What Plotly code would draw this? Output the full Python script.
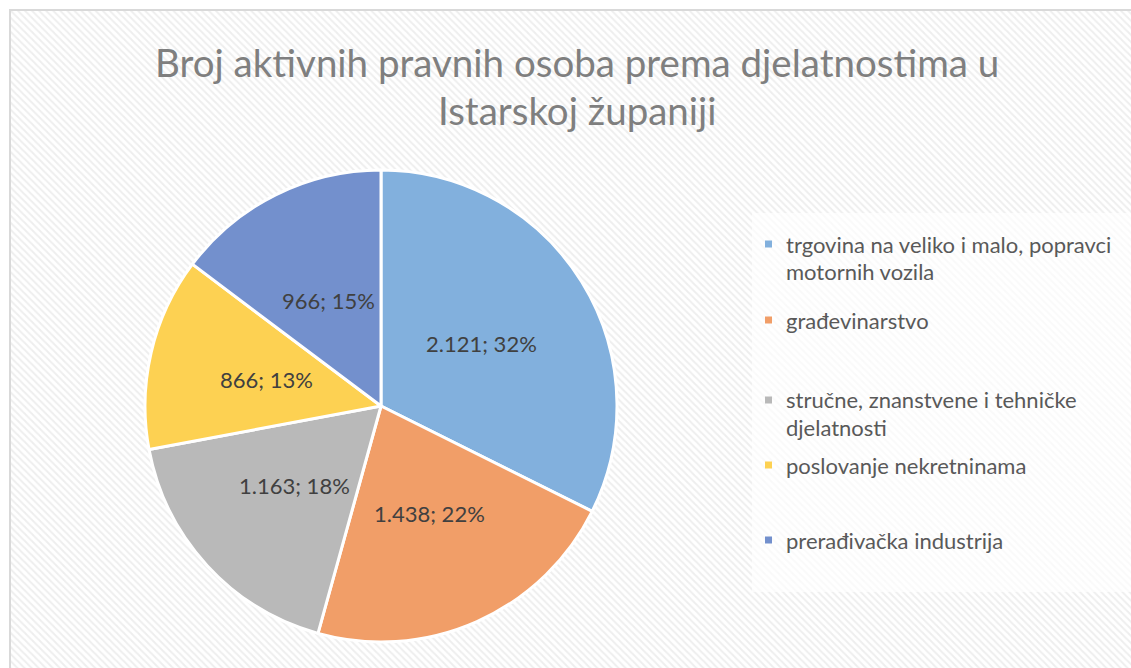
import math
import plotly.graph_objects as go

categories = [
    "trgovina na veliko i malo, popravci motornih vozila",
    "građevinarstvo",
    "stručne, znanstvene i tehničke djelatnosti",
    "poslovanje nekretninama",
    "prerađivačka industrija",
]
legend_lines = [
    ["trgovina na veliko i malo, popravci", "motornih vozila"],
    ["građevinarstvo"],
    ["stručne, znanstvene i tehničke", "djelatnosti"],
    ["poslovanje nekretninama"],
    ["prerađivačka industrija"],
]
values = [2121, 1438, 1163, 866, 966]
colors = ["#82b0dd", "#f19e68", "#b9b9b9", "#fdd152", "#7390cd"]
title_lines = ["Broj aktivnih pravnih osoba prema djelatnostima u", "Istarskoj županiji"]

W, H = 1131, 668
FONT = "Lato"


def px(x):
    return x / W


def py(y):
    return 1 - y / H


fig = go.Figure()

# hatched chart-area background
fig.add_trace(go.Scatter(
    x=[0, 1, 1, 0, 0], y=[0, 0, 1, 1, 0], mode="none", fill="toself",
    fillcolor="white",
    fillpattern=dict(shape="\\", bgcolor="white", fgcolor="#dedede", size=5, solidity=0.4),
    hoverinfo="skip", showlegend=False,
))

cx, cy, r = 381, 406, 236
fig.add_trace(go.Pie(
    labels=categories, values=values, sort=False, direction="clockwise", rotation=0,
    marker=dict(colors=colors, line=dict(color="white", width=3)),
    textinfo="none",
    domain=dict(x=[px(cx - r), px(cx + r)], y=[py(cy + r), py(cy - r)]),
    showlegend=False, hoverinfo="label+value+percent",
))

annotations = []
# data labels at half radius on each slice's bisector (as in the original)
total = sum(values)
cum = 0
for v in values:
    frac = (cum + v / 2) / total
    cum += v
    ang = 2 * math.pi * frac
    lx = cx + 0.5 * r * math.sin(ang)
    ly = cy - 0.5 * r * math.cos(ang)
    txt = f"{v:,}".replace(",", ".") + f"; {round(100 * v / total)}%"
    annotations.append(dict(text=txt, x=px(lx), y=py(ly), xref="paper", yref="paper",
                            xanchor="center", yanchor="middle", showarrow=False,
                            font=dict(family=FONT, size=22, color="#404040")))

# title
for t, yy in zip(title_lines, [62, 110]):
    annotations.append(dict(text=t, x=px(577), y=py(yy), xref="paper", yref="paper",
                            xanchor="center", yanchor="middle", showarrow=False,
                            font=dict(family=FONT, size=38.5, color="#7f7f7f")))

shapes = [
    dict(type="rect", xref="paper", yref="paper", x0=px(752), x1=1.01, y0=py(592), y1=py(213),
         fillcolor="rgba(255,255,255,0.65)", line=dict(width=0), layer="above"),
    dict(type="rect", xref="paper", yref="paper", x0=px(10), x1=1.01, y0=-0.05, y1=py(10),
         fillcolor="rgba(0,0,0,0)", line=dict(color="#d9d9d9", width=2), layer="above"),
]

legend_y = [244, 320, 400, 465, 540]
for lines, col, y0 in zip(legend_lines, colors, legend_y):
    shapes.append(dict(type="rect", xref="paper", yref="paper",
                       x0=px(765), x1=px(772), y0=py(y0 + 3.5), y1=py(y0 - 3.5),
                       fillcolor=col, line=dict(width=0), layer="above"))
    for k, ln in enumerate(lines):
        annotations.append(dict(text=ln, x=px(784), y=py(y0 + 27 * k), xref="paper", yref="paper",
                                xanchor="left", yanchor="middle", showarrow=False,
                                font=dict(family=FONT, size=22, color="#595959")))

fig.update_layout(
    width=W, height=H, margin=dict(l=0, r=0, t=0, b=0),
    paper_bgcolor="white", plot_bgcolor="rgba(0,0,0,0)",
    xaxis=dict(domain=[px(10), 1], range=[0, 1], visible=False, fixedrange=True),
    yaxis=dict(domain=[0, py(10)], range=[0, 1], visible=False, fixedrange=True),
    annotations=annotations, shapes=shapes,
)

fig.write_html(
    "out.html",
    config={"displayModeBar": False},
    post_script=(
        "document.body.style.margin='0';"
        "document.documentElement.style.overflow='hidden';"
        "document.body.style.overflow='hidden';"
    ),
)
